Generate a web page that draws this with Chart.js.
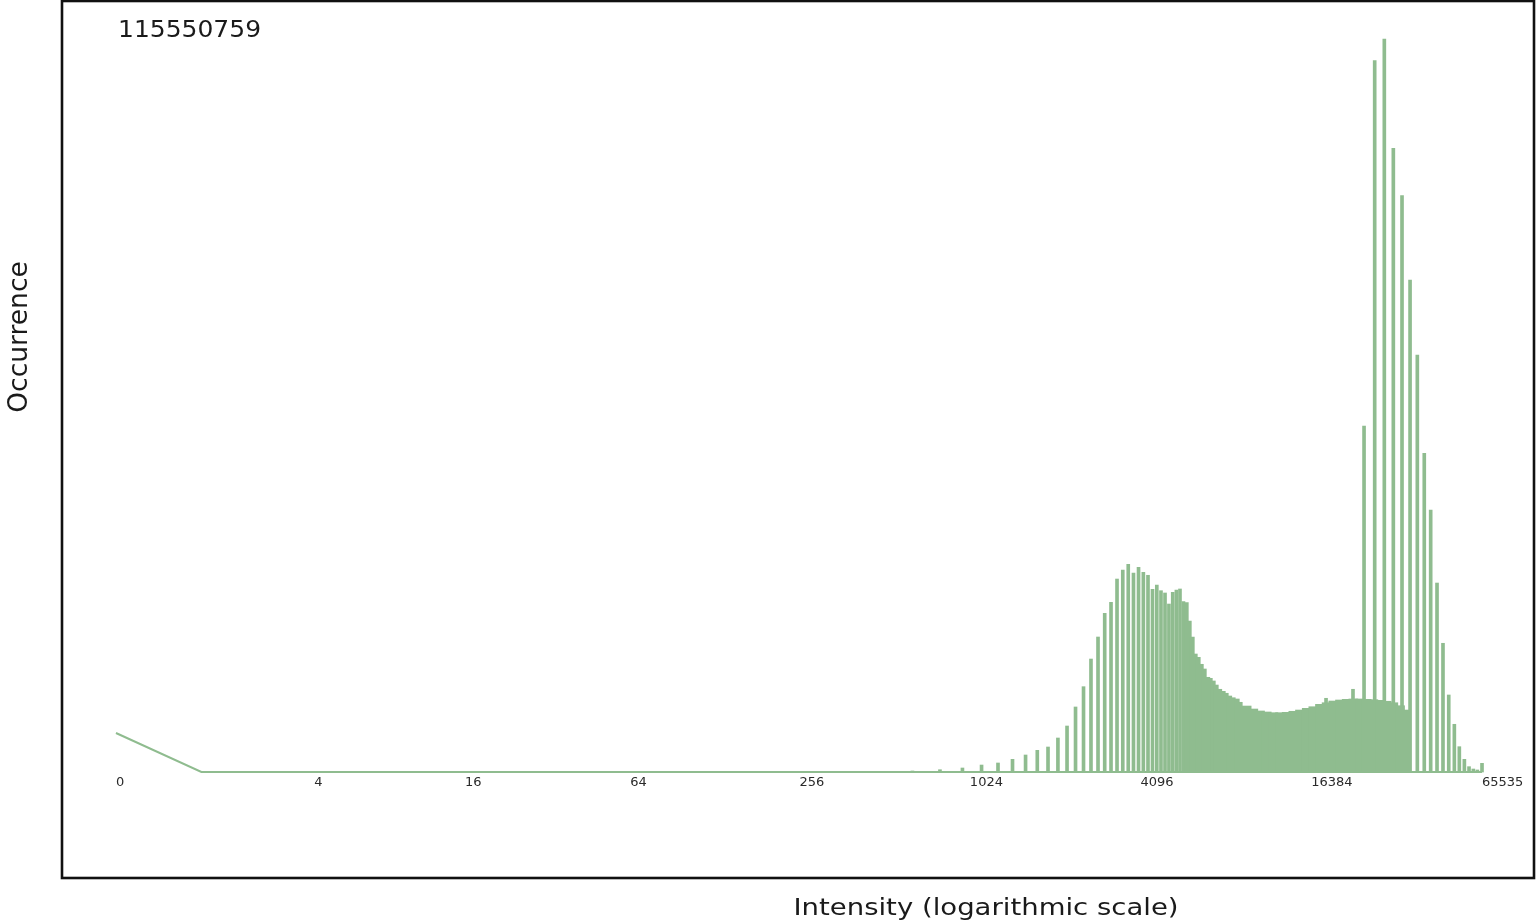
<!DOCTYPE html>
<html>
<head>
<meta charset="utf-8">
<title>Intensity histogram</title>
<script src="https://cdn.jsdelivr.net/npm/chart.js@4/dist/chart.umd.min.js"></script>
<style>
  html, body { margin: 0; padding: 0; background: #ffffff; overflow: hidden; }
  #wrap { position: relative; width: 1536px; height: 923px; }
</style>
</head>
<body>
<div id="wrap"><canvas id="histogram" width="1536" height="923"></canvas></div>
<script>
// Histogram of pixel intensities (counts per intensity value).

const peakCount = 115550759;

// Intensity 0, then the run of empty bins up to full scale.
const edgeIntensities = [0, 1, 65535];
const edgeCounts = [6150000, 0, 0];

// Low-range bins (coarse spacing).
const lowIntensities = [642, 803, 964, 1126, 1287, 1448, 1610, 1771, 1932, 2094, 2255,
  2416, 2578, 2739, 2900, 3062, 3223, 3384, 3546, 3707, 3868, 4030, 4191, 4352, 4514,
  4675, 4836, 4997, 5159, 5320, 5481, 5643, 5804, 5965];
const lowCounts = [160000, 360000, 630000, 1100000, 1420000, 2000000, 2680000, 3420000,
  3940000, 5360000, 7250000, 10250000, 13450000, 17810000, 21280000, 25020000, 26750000,
  30420000, 31840000, 32740000, 31370000, 32270000, 31480000, 31010000, 28800000, 29480000,
  28580000, 28220000, 26480000, 28330000, 28690000, 28850000, 26850000, 26690000];

// Densely populated bins: falling shoulder after the low-range peak.
const shoulderIntensities = [6073, 6222, 6375, 6531, 6696, 6860, 7058, 7202, 7379, 7560,
  7777, 8002, 8198, 8434, 8677, 8965, 9185];
const shoulderCounts = [23800000, 21280000, 18600000, 18080000, 16980000, 16240000,
  14930000, 14770000, 14350000, 13710000, 13040000, 12720000, 12410000, 11980000,
  11710000, 11510000, 10990000];

// Densely populated bins: broad plateau under the high-range peak.
const plateauIntensities = [9696, 10235, 10809, 11411, 12045, 12713, 13419, 14164, 14951,
  15793, 16659, 17585, 18556, 19590, 20691, 21845, 23055, 24340, 25691, 27120, 28624,
  30235, 31896, 33686, 35072];
const plateauCounts = [10400000, 9930000, 9620000, 9460000, 9350000, 9350000, 9410000,
  9570000, 9770000, 10040000, 10290000, 10670000, 10920000, 11190000, 11350000, 11460000,
  11510000, 11510000, 11460000, 11400000, 11300000, 11150000, 10920000, 10450000, 9770000];

// High-range bins (coarse spacing).
const highIntensities = [18470, 22990, 25150, 27420, 29650, 31900, 34230, 36540, 38760,
  41010, 43200, 45480, 47740, 50020, 52350, 54510, 56790, 58980, 61070, 63100, 65535];
const highCounts = [11620000, 13040000, 54540000, 112130000, peakCount, 98320000, 90850000,
  77560000, 65740000, 50240000, 41300000, 29790000, 20290000, 12140000, 7520000, 3990000,
  2000000, 840000, 470000, 320000, 1370000];

// Axis tick values (intensities).
const tickIntensities = [0, 4, 16, 64, 256, 1024, 4096, 16384, 65535];

const xTitle = 'Intensity (logarithmic scale)';
const yTitle = 'Occurrence';

const barColor = '#8fbc8f';
const textColor = '#1a1a1a';
const fontFamily = '"DejaVu Sans", Verdana, sans-serif';

// The axis is log-scaled on intensity + 1 so that intensity 0 has a position.
const toPoints = (xs, ys) => xs.map((v, i) => ({ x: v + 1, y: ys[i] }));

const barSet = (xs, ys, thickness) => ({
  data: toPoints(xs, ys),
  backgroundColor: barColor,
  borderWidth: 0,
  barThickness: thickness,
  grouped: false
});

// Draws a line of text with an optional horizontal stretch.
function drawText(ctx, text, x, y, size, sx, align, angle) {
  ctx.save();
  ctx.translate(x, y);
  if (angle) ctx.rotate(angle);
  ctx.scale(sx, 1);
  ctx.font = size + 'px ' + fontFamily;
  ctx.fillStyle = textColor;
  ctx.textAlign = align;
  ctx.textBaseline = 'alphabetic';
  ctx.fillText(text, 0, 0);
  ctx.restore();
}

const frameAndLabels = {
  id: 'frameAndLabels',
  afterDraw(chart) {
    const { ctx, chartArea: a } = chart;
    ctx.save();
    ctx.strokeStyle = '#111111';
    ctx.lineWidth = 2.6;
    ctx.strokeRect(a.left, a.top, a.right - a.left, a.bottom - a.top);
    ctx.restore();
    // largest bin count, top-left inside the frame
    drawText(ctx, String(peakCount), a.left + 56, a.top + 36.3, 23, 1.086, 'left', 0);
    // axis titles
    drawText(ctx, xTitle, 986, 915, 23, 1.196, 'center', 0);
    drawText(ctx, yTitle, 27, 337, 26.5, 1, 'center', -Math.PI / 2);
  }
};

Chart.defaults.font.family = fontFamily;

new Chart(document.getElementById('histogram'), {
  type: 'bar',
  data: {
    datasets: [
      {
        type: 'line',
        data: toPoints(edgeIntensities, edgeCounts),
        borderColor: barColor,
        borderWidth: 2,
        pointRadius: 0,
        tension: 0,
        fill: false
      },
      barSet(lowIntensities, lowCounts, 3),
      barSet(shoulderIntensities, shoulderCounts, 4.6),
      barSet(plateauIntensities, plateauCounts, 9),
      barSet(highIntensities, highCounts, 3)
    ]
  },
  options: {
    responsive: false,
    animation: false,
    devicePixelRatio: 1,
    layout: { padding: { left: 62, top: 1, right: 2, bottom: 45 } },
    plugins: { legend: { display: false }, tooltip: { enabled: false } },
    scales: {
      x: {
        type: 'logarithmic',
        bounds: 'data',
        min: 0.6452,
        max: 99950,
        offset: false,
        position: { y: 0 },
        grid: { display: false, drawTicks: false },
        border: { display: false },
        afterBuildTicks(scale) {
          scale.ticks = tickIntensities.map(v => ({ value: v + 1 }));
        },
        ticks: {
          autoSkip: false,
          maxRotation: 0,
          minRotation: 0,
          align: 'start',
          padding: 3,
          color: '#2a2a2a',
          font: { size: 13 },
          callback: v => String(Math.round(v - 1))
        }
      },
      y: {
        type: 'linear',
        display: false,
        min: -16709946,
        max: 121541117
      }
    }
  },
  plugins: [frameAndLabels]
});
</script>
</body>
</html>
